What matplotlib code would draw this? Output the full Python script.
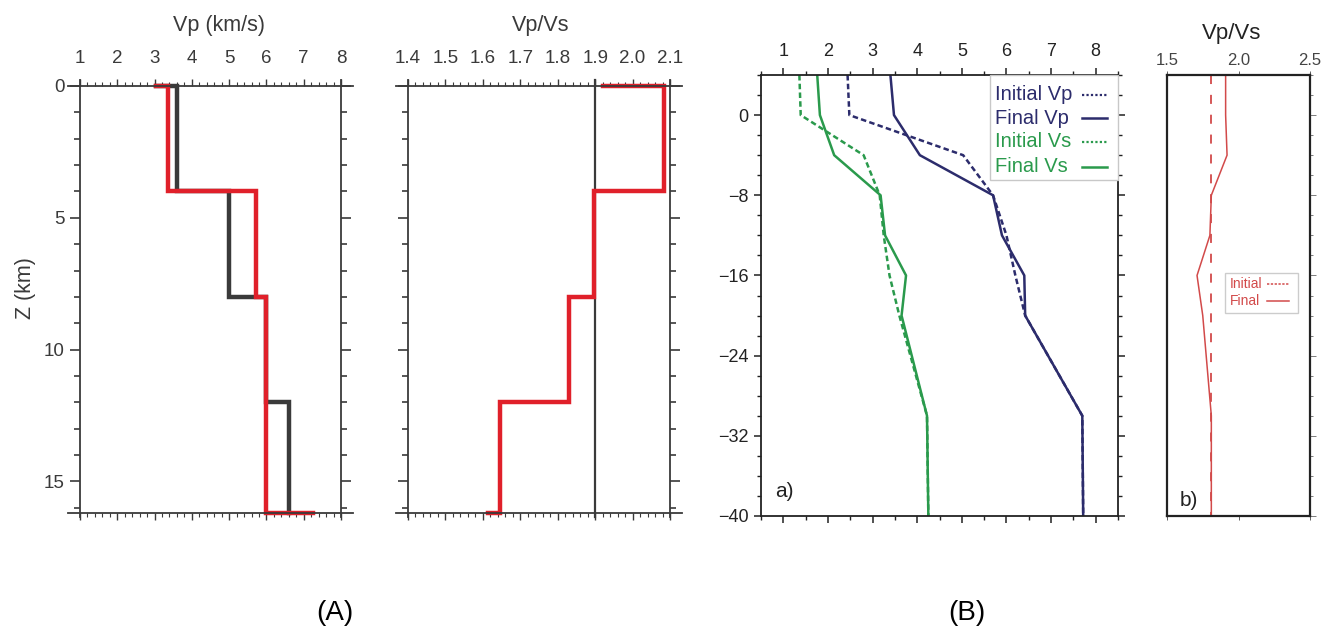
import numpy as np
import matplotlib
matplotlib.use("Agg")
import matplotlib.pyplot as plt
from matplotlib.patches import Rectangle
from matplotlib.ticker import MultipleLocator, FixedLocator

plt.rcParams['font.family'] = ['Liberation Sans', 'DejaVu Sans']

# ---- (A) layered model, depth in km (positive down) ----
vp_a_depth_init = [0, 0, 4, 4, 8, 8, 12, 12, 16.2]
vp_a_init = [3.05, 3.6, 3.6, 5.0, 5.0, 6.0, 6.0, 6.6, 6.6]
vp_a_depth_final = [0, 0, 4, 4, 8, 8, 16.2, 16.2]
vp_a_final = [3.05, 3.35, 3.35, 5.72, 5.72, 6.0, 6.0, 7.25]

vpvs_a_ref = 1.9
vpvs_a_depth = [0, 0, 4, 4, 8, 8, 12, 12, 16.2, 16.2]
vpvs_a_final = [1.92, 2.085, 2.085, 1.898, 1.898, 1.83, 1.83, 1.645, 1.645, 1.615]

# ---- (B) gradient model, elevation in km (negative down) ----
z_b = [4, 0, -4, -8, -12, -16, -20, -30, -40]
vp_b_init = [2.44, 2.48, 5.03, 5.70, 6.00, 6.20, 6.42, 7.70, 7.72]
vp_b_final = [3.40, 3.48, 4.06, 5.70, 5.90, 6.40, 6.42, 7.70, 7.72]
vs_b_init = [1.36, 1.39, 2.80, 3.16, 3.25, 3.38, 3.60, 4.22, 4.25]
vs_b_final = [1.76, 1.82, 2.14, 3.18, 3.28, 3.75, 3.65, 4.22, 4.25]
vpvs_b_init = [1.81, 1.81, 1.81, 1.81, 1.81, 1.81, 1.81, 1.81, 1.81]
vpvs_b_final = [1.91, 1.91, 1.92, 1.81, 1.80, 1.71, 1.75, 1.81, 1.81]

legend_a_labels = ['Initial Vp', 'Final Vp', 'Initial Vs', 'Final Vs']
legend_b_labels = ['Initial', 'Final']

RED = '#e0202a'
DARK = '#3a3a3a'
NAVY = '#2c2c6c'
GREEN = '#2a9a4c'
BRED = '#d24a4a'
DASH_B = (0, (2.2, 1.3))

W, H = 1322, 634
fig = plt.figure(figsize=(W / 100, H / 100), dpi=100)


def px_axes(x0, y0, x1, y1):
    return fig.add_axes([x0 / W, 1 - y1 / H, (x1 - x0) / W, (y1 - y0) / H])


def gmt_frame(ax):
    # frame lines that run past the corners
    for y in (0, 1):
        ax.plot([-0.045, 1.045], [y, y], transform=ax.transAxes, color=DARK,
                lw=1.3, clip_on=False, zorder=5)
    for x in (0, 1):
        ax.plot([x, x], [-0.01, 1.015], transform=ax.transAxes, color=DARK,
                lw=1.3, clip_on=False, zorder=5)
    for s in ax.spines.values():
        s.set_visible(False)


def box_legend(ax, box, labels, colors, styles, widths, ys, tx, lx, fontsize, edge):
    # legend drawn by hand: text left aligned, line sample on the right
    x0, y0, x1, y1 = box
    ax.add_patch(Rectangle((x0, y0), x1 - x0, y1 - y0, transform=ax.transAxes,
                           facecolor='white', edgecolor=edge, lw=1.0, zorder=6,
                           clip_on=False))
    for lab, c, ls, lw, y in zip(labels, colors, styles, widths, ys):
        ax.text(tx, y, lab, transform=ax.transAxes, color=c, fontsize=fontsize,
                ha='left', va='center', zorder=7)
        ax.plot(lx, [y, y], transform=ax.transAxes, color=c, ls=ls, lw=lw,
                zorder=7, clip_on=False)


# ================= (A) Vp =================
ax1 = px_axes(80, 86, 341, 513)
ax1.plot(vp_a_init, vp_a_depth_init, color=DARK, lw=3.2, solid_joinstyle='miter', clip_on=False)
ax1.plot(vp_a_final, vp_a_depth_final, color=RED, lw=3.2, solid_joinstyle='miter', clip_on=False)
ax1.set_xlim(1, 8)
ax1.set_ylim(16.2, 0)
ax1.xaxis.set_major_locator(MultipleLocator(1))
ax1.xaxis.set_minor_locator(MultipleLocator(0.2))
ax1.yaxis.set_major_locator(MultipleLocator(5))
ax1.yaxis.set_minor_locator(MultipleLocator(1))
gmt_frame(ax1)
ax1.tick_params(axis='x', which='both', direction='out', top=True, bottom=True,
                labeltop=True, labelbottom=False, colors=DARK, labelsize=13.5, pad=9)
ax1.tick_params(axis='x', which='major', length=5, width=1)
ax1.tick_params(axis='x', which='minor', length=3, width=0.8)
ax1.tick_params(axis='y', which='both', direction='out', left=True, right=True,
                colors=DARK, labelsize=13.5, pad=4)
ax1.tick_params(axis='y', which='major', length=7, width=1.2)
ax1.tick_params(axis='y', which='minor', length=4, width=1.2)
fig.text(219 / W, 1 - 26 / H, 'Vp (km/s)', ha='center', va='center', fontsize=15.5, color=DARK)
fig.text(25 / W, 1 - 288 / H, 'Z (km)', ha='center', va='center', rotation=90, fontsize=15.5, color=DARK)

# ================= (A) Vp/Vs =================
ax2 = px_axes(408, 86, 670, 513)
ax2.axvline(vpvs_a_ref, color=DARK, lw=1.6, ymin=-0.01, ymax=1.015, clip_on=False, zorder=3)
ax2.plot(vpvs_a_final, vpvs_a_depth, color=RED, lw=3.2, solid_joinstyle='miter', clip_on=False, zorder=4)
ax2.set_xlim(1.4, 2.1)
ax2.set_ylim(16.2, 0)
ax2.xaxis.set_major_locator(MultipleLocator(0.1))
ax2.xaxis.set_minor_locator(MultipleLocator(0.02))
ax2.xaxis.set_major_formatter(plt.FuncFormatter(lambda v, p: f'{v:.1f}'))
ax2.yaxis.set_major_locator(MultipleLocator(5))
ax2.yaxis.set_minor_locator(MultipleLocator(1))
gmt_frame(ax2)
ax2.tick_params(axis='x', which='both', direction='out', top=True, bottom=True,
                labeltop=True, labelbottom=False, colors=DARK, labelsize=13.5, pad=9)
ax2.tick_params(axis='x', which='major', length=5, width=1)
ax2.tick_params(axis='x', which='minor', length=3, width=0.8)
ax2.tick_params(axis='y', which='both', direction='out', left=True, right=True,
                labelleft=False, colors=DARK)
ax2.tick_params(axis='y', which='major', length=7, width=1.2)
ax2.tick_params(axis='y', which='minor', length=4, width=1.2)
fig.text(541 / W, 1 - 26 / H, 'Vp/Vs', ha='center', va='center', fontsize=15.5, color=DARK)

# ================= (B) a) velocities =================
ax3 = px_axes(761, 75, 1118, 516)
ax3.plot(vp_b_init, z_b, color=NAVY, lw=1.8, ls=DASH_B)
ax3.plot(vp_b_final, z_b, color=NAVY, lw=1.8)
ax3.plot(vs_b_init, z_b, color=GREEN, lw=1.8, ls=DASH_B)
ax3.plot(vs_b_final, z_b, color=GREEN, lw=1.8)
ax3.set_xlim(0.5, 8.5)
ax3.set_ylim(-40, 4)
ax3.xaxis.set_major_locator(MultipleLocator(1))
ax3.xaxis.set_minor_locator(MultipleLocator(0.5))
ax3.yaxis.set_major_locator(MultipleLocator(8))
ax3.yaxis.set_minor_locator(MultipleLocator(2))
for s in ax3.spines.values():
    s.set_linewidth(1.3)
    s.set_color('#222222')
ax3.tick_params(axis='both', which='both', direction='out', top=True, bottom=True,
                left=True, right=True, labeltop=True, labelbottom=False,
                labelsize=13, colors='#222222')
ax3.tick_params(axis='both', which='major', length=5, width=1.1, pad=4)
ax3.tick_params(axis='both', which='minor', length=3, width=1)
ax3.tick_params(axis='x', which='major', pad=6)
box_legend(ax3, (0.641, 0.762, 1.0, 1.0), legend_a_labels,
           [NAVY, NAVY, GREEN, GREEN], [(0, (1, 1)), '-', (0, (1, 1)), '-'],
           [1.6, 1.8, 1.6, 1.8], [0.955, 0.902, 0.849, 0.792],
           0.655, [0.90, 0.97], 14.5, '#c8c8c8')
ax3.text(0.04, 0.055, 'a)', transform=ax3.transAxes, fontsize=15, color='#222222',
         ha='left', va='center')

# ================= (B) b) Vp/Vs =================
ax4 = px_axes(1167, 75, 1310, 516)
ax4.plot(vpvs_b_init, z_b, color=BRED, lw=1.3, ls=(0, (5, 6)))
ax4.plot(vpvs_b_final, z_b, color=BRED, lw=1.1)
ax4.set_xlim(1.5, 2.5)
ax4.set_ylim(-40, 4)
ax4.xaxis.set_major_locator(FixedLocator([1.5, 2.0, 2.5]))
ax4.xaxis.set_major_formatter(plt.FuncFormatter(lambda v, p: f'{v:.1f}'))
ax4.yaxis.set_major_locator(MultipleLocator(8))
ax4.yaxis.set_minor_locator(MultipleLocator(2))
for s in ax4.spines.values():
    s.set_linewidth(1.6)
    s.set_color('#222222')
ax4.tick_params(axis='x', which='both', direction='out', top=True, bottom=True,
                labeltop=True, labelbottom=False, labelsize=12, colors='#444444',
                length=3, width=0.6, pad=2)
ax4.tick_params(axis='y', which='both', direction='out', left=False, right=True,
                labelleft=False, colors='#666666', width=0.6)
ax4.tick_params(axis='y', which='major', length=4)
ax4.tick_params(axis='y', which='minor', length=2.5)
box_legend(ax4, (0.407, 0.46, 0.916, 0.551), legend_b_labels,
           [BRED, BRED], [(0, (1.5, 1)), '-'], [1.1, 1.1], [0.526, 0.488],
           0.44, [0.70, 0.85], 10, '#cccccc')
ax4.text(0.09, 0.036, 'b)', transform=ax4.transAxes, fontsize=15, color='#222222',
         ha='left', va='center')
fig.text(1232 / W, 1 - 33 / H, 'Vp/Vs', ha='center', va='center', fontsize=16, color='#222222')

# panel captions
fig.text(335 / W, 1 - 613 / H, '(A)', ha='center', va='center', fontsize=20, color='black')
fig.text(967 / W, 1 - 613 / H, '(B)', ha='center', va='center', fontsize=20, color='black')

fig.savefig('out.png', dpi=100)
